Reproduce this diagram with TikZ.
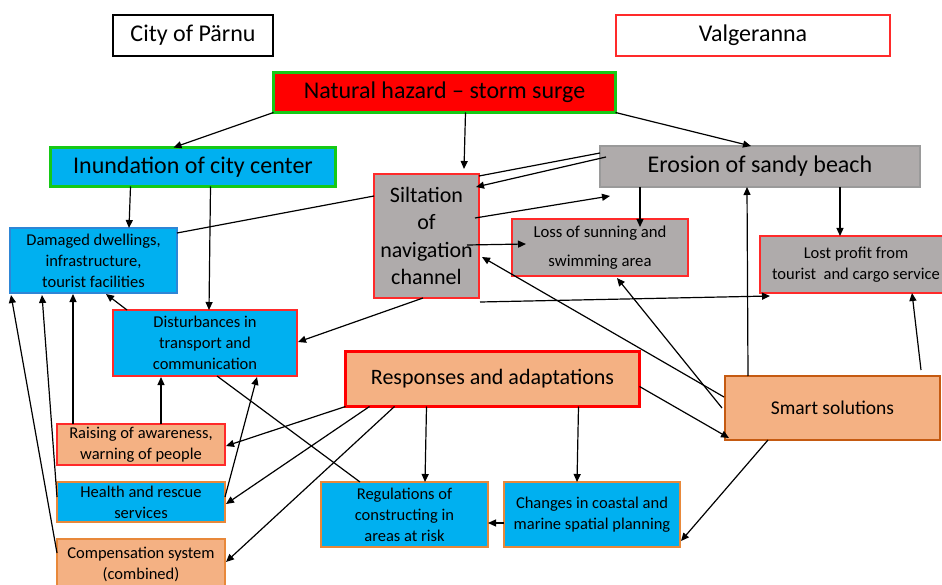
\documentclass[tikz,border=0pt]{standalone}
\usepackage{fontspec}
\setmainfont{Carlito}
\usetikzlibrary{arrows.meta,calc}

\definecolor{skyblue}{HTML}{00B0F0}
\definecolor{stone}{HTML}{AFABAB}
\definecolor{stoneedge}{HTML}{9A9A9A}
\definecolor{peach}{HTML}{F4B183}
\definecolor{rust}{HTML}{C55A11}
\definecolor{amber}{HTML}{E8883A}
\definecolor{alarm}{HTML}{FF0000}
\definecolor{edgered}{HTML}{FF2A2A}
\definecolor{leaf}{HTML}{16C916}
\definecolor{deepblue}{HTML}{2E86D6}

\tikzset{
  box/.style={rectangle, inner sep=0pt, outer sep=0pt, align=center, line width=1.4pt},
  big/.style={font=\fontsize{24}{29}\selectfont},
  mid/.style={font=\fontsize{22}{27.5}\selectfont},
  small/.style={font=\fontsize{16.5}{21}\selectfont},
  link/.style={line width=1.2pt, -{Triangle[length=8pt,width=7pt]}},
  plain/.style={line width=1.2pt},
}

\begin{document}
\begin{tikzpicture}[x=1pt,y=-1pt]
\useasboundingbox (0,0) rectangle (942,585);
\clip (0,0) rectangle (942,585);

% location labels
\node[box, big, draw=black, fill=white, minimum width=160, minimum height=41] (city) at (193,35.5) {City of Pärnu};
\node[box, big, draw=edgered, fill=white, minimum width=274, minimum height=41] (valg) at (753,35.5) {Valgeranna};

% hazard and primary effects
\node[box, big, draw=leaf, fill=alarm, line width=3pt, minimum width=342, minimum height=40] (hz) at (444.5,92.5) {\raisebox{-2pt}{Natural hazard – storm surge}};
\node[box, big, draw=leaf, fill=skyblue, line width=3pt, minimum width=285, minimum height=39] (inund) at (193,167) {\raisebox{-2pt}{Inundation of city center}};
\node[box, mid, draw=edgered, fill=stone, minimum width=105, minimum height=124] (silt) at (426.5,236) {Siltation\\of\\navigation\\channel};
\node[box, big, draw=stoneedge, fill=stone, minimum width=320, minimum height=41] (eros) at (760,166.5) {\raisebox{-2pt}{Erosion of sandy beach}};

% consequences
\node[box, font=\fontsize{16.7}{29}\selectfont, draw=edgered, fill=stone, minimum width=176, minimum height=57] (loss) at (600,247.5) {Loss of sunning and\\swimming area};
\node[box, small, draw=edgered, fill=stone, minimum width=192, minimum height=57] (lost) at (856,264.5) {Lost profit from\\tourist\ \ and cargo service};
\node[box, small, draw=deepblue, fill=skyblue, minimum width=167, minimum height=65] (dam) at (93.5,260.5) {Damaged dwellings,\\infrastructure,\\tourist facilities};
\node[box, small, draw=edgered, fill=skyblue, minimum width=184, minimum height=66] (dist) at (205,343) {Disturbances in\\transport and\\communication};

% responses
\node[box, font=\fontsize{22}{27}\selectfont, draw=alarm, fill=peach, line width=3.5pt, minimum width=294, minimum height=55] (resp) at (492.5,379) {\raisebox{-2pt}{Responses and adaptations}};
\node[box, font=\fontsize{19.5}{24}\selectfont, draw=rust, fill=peach, line width=2.5pt, minimum width=215, minimum height=64] (smart) at (832.5,408) {Smart solutions};
\node[box, small, draw=edgered, fill=peach, minimum width=168, minimum height=41] (rais) at (141,444.5) {Raising of awareness,\\warning of people};
\node[box, small, draw=amber, fill=skyblue, minimum width=168, minimum height=40] (health) at (141,502) {Health and rescue\\services};
\node[box, small, draw=amber, fill=peach, minimum width=168, minimum height=51] (comp) at (141,564.5) {Compensation system\\(combined)};
\node[box, small, draw=amber, fill=skyblue, minimum width=167, minimum height=65] (reg) at (404.5,514.5) {Regulations of\\constructing in\\areas at risk};
\node[box, small, draw=amber, fill=skyblue, minimum width=176, minimum height=65] (chg) at (592,514.5) {Changes in coastal and\\marine spatial planning};

% connectors from the hazard
\draw[link] (hz.south west) -- ($(inund.north west)+(123,0)$);
\draw[link] ($(hz.south west)+(192,0)$) -- ($(silt.north west)+(90,-5)$);
\draw[link] (hz.south east) -- ($(eros.north west)+(151,0)$);

% erosion and siltation
\draw[plain] ($(eros.north west)+(0,7)$) -- ($(silt.north east)+(0,2)$);
\draw[link] ($(eros.north west)+(6,11)$) -- ($(silt.north east)+(-3,13)$);
\draw[link] ($(silt.north east)+(-4,44)$) -- ($(eros.south west)+(10,9)$);
\draw[link] ($(silt.north west)+(93,71)$) -- ($(loss.north west)+(14,25)$);
\draw[link] ($(eros.south west)+(40,0)$) -- ($(loss.north west)+(128,8)$);
\draw[link] ($(eros.south west)+(240,0)$) -- ($(lost.north west)+(80,0)$);
\draw[plain] ($(silt.north west)+(0,22)$) -- ($(dam.north east)+(0,5)$);
\draw[link] ($(silt.south west)+(49,0)$) -- ($(dist.east)+(1,-1)$);
\draw[link] ($(silt.south east)+(1,4)$) -- ($(lost.south west)+(10,3)$);

% city centre chain
\draw[link] ($(inund.south west)+(80,0)$) -- ($(dam.north west)+(119,0)$);
\draw[link] ($(inund.south west)+(160,0)$) -- ($(dist.north west)+(96,0)$);
\draw[link] ($(dist.north west)+(14,0)$) -- ($(dam.south west)+(96,1)$);
\draw[plain] ($(dist.south west)+(104,0)$) -- ($(reg.north west)+(39,0)$);

% measures acting on the city centre
\draw[link] ($(rais.north west)+(104,0)$) -- ($(dist.south west)+(48,1)$);
\draw[link] ($(rais.north west)+(16,0)$) -- ($(dam.south west)+(63,1)$);
\draw[link] ($(health.north west)+(0,15)$) -- ($(dam.south west)+(32,2)$);
\draw[link] ($(comp.north west)+(0,14)$) -- ($(dam.south west)+(1,2)$);
\draw[link] ($(health.north east)+(0,15)$) -- ($(dist.south west)+(144,1)$);

% responses and adaptations
\draw[link] (resp.south west) -- ($(rais.north east)+(1,22)$);
\draw[link] ($(resp.south west)+(24,0)$) -- ($(health.north east)+(1,22)$);
\draw[link] ($(resp.south west)+(49,0)$) -- ($(comp.north east)+(1,23)$);
\draw[link] ($(resp.south west)+(81,0)$) -- ($(reg.north west)+(104,0)$);
\draw[link] ($(resp.south west)+(233,0)$) -- ($(chg.north west)+(73,0)$);
\draw[link] ($(resp.north east)+(0,35)$) -- ($(smart.north west)+(4,62)$);
\draw[link] ($(chg.north west)+(0,41)$) -- ($(reg.north east)+(0,41)$);

% smart solutions
\draw[link] ($(smart.south west)+(43,0)$) -- ($(chg.north east)+(1,59)$);
\draw[link] ($(smart.north west)+(23,0)$) -- ($(eros.south west)+(147,0)$);
\draw[link] ($(smart.north west)+(196,-6)$) -- ($(lost.south west)+(152,0)$);
\draw[link] ($(smart.north west)+(-1,21)$) -- ($(silt.north east)+(3,83)$);
\draw[link] ($(smart.north west)+(-3,32)$) -- ($(loss.south west)+(105,2)$);
\end{tikzpicture}
\end{document}
